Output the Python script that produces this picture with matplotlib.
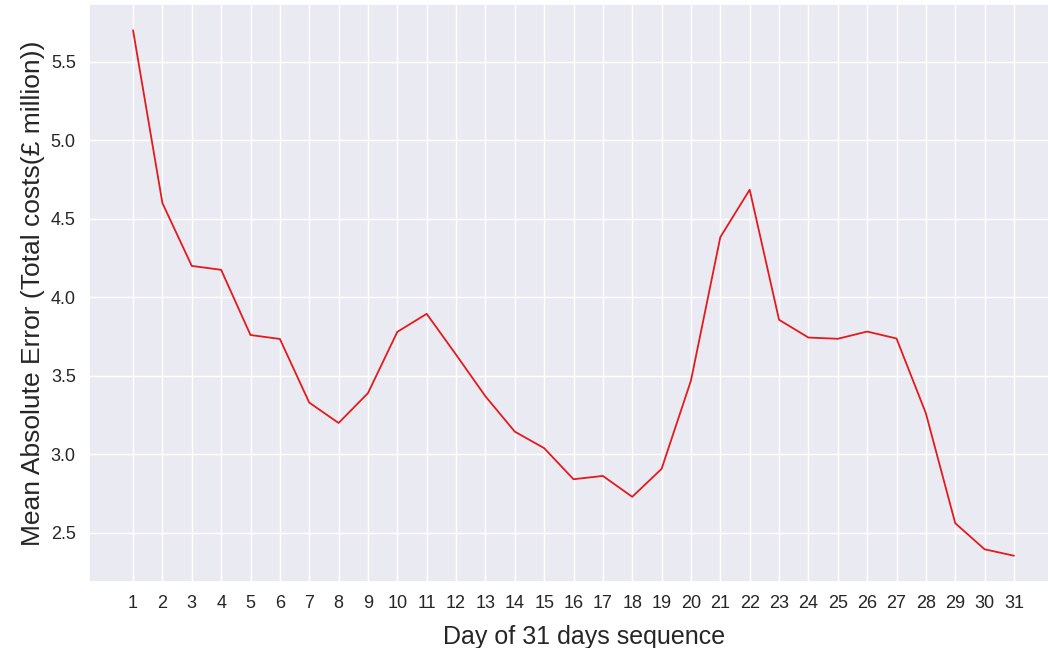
import matplotlib
matplotlib.use("Agg")
import matplotlib.pyplot as plt
import seaborn as sns

days = list(range(1, 32))
mae = [5.70, 4.60, 4.20, 4.175, 3.76, 3.735, 3.33, 3.20, 3.39, 3.78,
       3.895, 3.635, 3.37, 3.145, 3.04, 2.842, 2.863, 2.73, 2.908, 3.47,
       4.383, 4.685, 3.857, 3.744, 3.736, 3.782, 3.738, 3.262, 2.562, 2.396,
       2.355]
tick_labels = [str(d) for d in days]

sns.set_theme(style="darkgrid")
plt.rcParams['font.family'] = ['Liberation Sans', 'DejaVu Sans']

fig = plt.figure(figsize=(10.48, 6.48), dpi=100)
ax = fig.add_axes([89/1048, (648-582)/648, (1058-89)/1048, (582-4)/648])
ax.plot(days, mae, color='#e41a1c', linewidth=1.3)
ax.set_xticks(days)
ax.set_xticklabels(tick_labels, fontsize=13, color='#262626')
ax.tick_params(axis='y', labelsize=13, labelcolor='#262626')
ax.set_xlabel("Day of 31 days sequence", fontsize=18, color='#262626')
ax.set_ylabel("Mean Absolute Error (Total costs(£ million))", fontsize=19, color='#262626')
ax.xaxis.set_label_coords((584 - 89) / 969, -0.075)
fig.savefig("out.png", dpi=100)
